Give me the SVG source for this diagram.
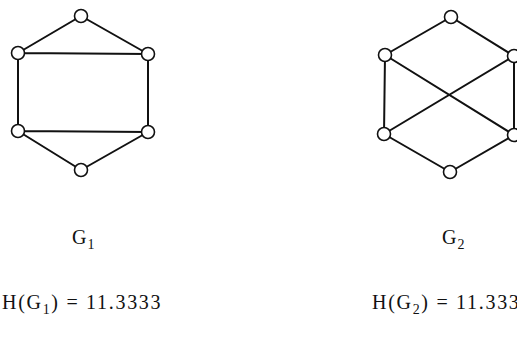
<svg xmlns="http://www.w3.org/2000/svg" width="517" height="337" viewBox="0 0 517 337">
<style>
.e{stroke:#111;stroke-width:2;fill:none}
.n{fill:#fff;stroke:#111;stroke-width:1.6}
.t{font-family:"Liberation Serif",serif;font-size:20px;fill:#111}
.s{font-size:14px}
</style>
<rect width="517" height="337" fill="#fff"/>
<g id="connectors">
<path class="e" d="M81 16L18 53M81 16L148 54M18 53L148 54M18 53L18 131M148 54L148 132M18 131L148 132M18 131L81 170M148 132L81 170"/>
<path class="e" d="M451 17L385 55M451 17L514 56M385 55L384 134M514 56L514 135M385 55L514 135M514 56L384 134M384 134L450 172M514 135L450 172"/>
</g>
<g id="g1-t"><circle class="n" cx="81" cy="16" r="6.5"/></g>
<g id="g1-lu"><circle class="n" cx="18" cy="53" r="6.5"/></g>
<g id="g1-ru"><circle class="n" cx="148" cy="54" r="6.5"/></g>
<g id="g1-ll"><circle class="n" cx="18" cy="131" r="6.5"/></g>
<g id="g1-rl"><circle class="n" cx="148" cy="132" r="6.5"/></g>
<g id="g1-b"><circle class="n" cx="81" cy="170" r="6.5"/></g>
<g id="g2-t"><circle class="n" cx="451" cy="17" r="6.5"/></g>
<g id="g2-lu"><circle class="n" cx="385" cy="55" r="6.5"/></g>
<g id="g2-ru"><circle class="n" cx="514" cy="56" r="6.5"/></g>
<g id="g2-ll"><circle class="n" cx="384" cy="134" r="6.5"/></g>
<g id="g2-rl"><circle class="n" cx="514" cy="135" r="6.5"/></g>
<g id="g2-b"><circle class="n" cx="450" cy="172" r="6.5"/></g>
<g id="labels">
<text class="t" x="72" y="244">G<tspan class="s" dx="1" dy="5">1</tspan></text>
<text class="t" x="442" y="244">G<tspan class="s" dx="1" dy="5">2</tspan></text>
<text class="t" x="2" y="309" letter-spacing="1.7">H(G<tspan class="s" dy="5">1</tspan><tspan dy="-5">) = 11.3333</tspan></text>
<text class="t" x="372" y="309" letter-spacing="1.7">H(G<tspan class="s" dy="5">2</tspan><tspan dy="-5">) = 11.3333</tspan></text>
</g>
</svg>
